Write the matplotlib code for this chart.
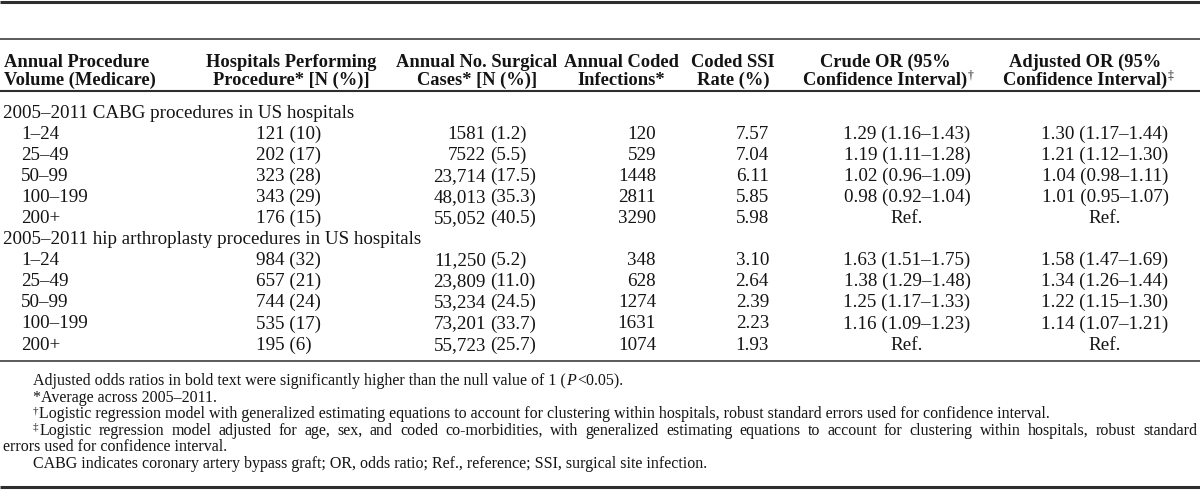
import matplotlib.pyplot as plt

plt.rcParams['font.family'] = 'Liberation Serif'

# table data
volume_bins = ['1–24', '25–49', '50–99', '100–199', '200+']
group_titles = ['2005–2011 CABG procedures in US hospitals',
                '2005–2011 hip arthroplasty procedures in US hospitals']

cabg_hosp_n = [121, 202, 323, 343, 176]
cabg_hosp_pct = [10, 17, 28, 29, 15]
cabg_cases_n = [1581, 7522, 23714, 48013, 55052]
cabg_cases_pct = [1.2, 5.5, 17.5, 35.3, 40.5]
cabg_infections = [120, 529, 1448, 2811, 3290]
cabg_rate = [7.57, 7.04, 6.11, 5.85, 5.98]
cabg_crude = [(1.29, 1.16, 1.43), (1.19, 1.11, 1.28), (1.02, 0.96, 1.09), (0.98, 0.92, 1.04), None]
cabg_adj = [(1.30, 1.17, 1.44), (1.21, 1.12, 1.30), (1.04, 0.98, 1.11), (1.01, 0.95, 1.07), None]

hip_hosp_n = [984, 657, 744, 535, 195]
hip_hosp_pct = [32, 21, 24, 17, 6]
hip_cases_n = [11250, 23809, 53234, 73201, 55723]
hip_cases_pct = [5.2, 11.0, 24.5, 33.7, 25.7]
hip_infections = [348, 628, 1274, 1631, 1074]
hip_rate = [3.10, 2.64, 2.39, 2.23, 1.93]
hip_crude = [(1.63, 1.51, 1.75), (1.38, 1.29, 1.48), (1.25, 1.17, 1.33), (1.16, 1.09, 1.23), None]
hip_adj = [(1.58, 1.47, 1.69), (1.34, 1.26, 1.44), (1.22, 1.15, 1.30), (1.14, 1.07, 1.21), None]

col_headers = [('Annual Procedure', 'Volume (Medicare)', ''),
               ('Hospitals Performing', 'Procedure* [N (%)]', ''),
               ('Annual No. Surgical', 'Cases* [N (%)]', ''),
               ('Annual Coded', 'Infections*', ''),
               ('Coded SSI', 'Rate (%)', ''),
               ('Crude OR (95%', 'Confidence Interval)', '†'),
               ('Adjusted OR (95%', 'Confidence Interval)', '‡')]

footnotes = ['*Average across 2005–2011.',
             'Logistic regression model with generalized estimating equations to account for clustering '
             'within hospitals, robust standard errors used for confidence interval.',
             'Logistic regression model adjusted for age, sex, and coded co-morbidities, with generalized '
             'estimating equations to account for clustering within hospitals, robust standard',
             'errors used for confidence interval.',
             'CABG indicates coronary artery bypass graft; OR, odds ratio; Ref., reference; SSI, surgical site infection.']

TXT = '#141414'
LINE = '#2e2e2e'
FS = 13.7
FH = 13.3
FN = 11.5

fig = plt.figure(figsize=(12, 4.97), dpi=100)
ax = fig.add_axes([0, 0, 1, 1])
ax.set_xlim(0, 1200)
ax.set_ylim(497, 0)
ax.axis('off')
rend = fig.canvas.get_renderer()


def right_of(t):
    bb = t.get_window_extent(rend)
    return ax.transData.inverted().transform((bb.x1, bb.y0))[0]


def txt(x, y, s, size=FS, ha='left', **kw):
    return ax.text(x, y, s, fontsize=size, ha=ha, va='baseline', color=TXT, **kw)


def fmt_n(n):
    return f'{n:,}' if n >= 10000 else str(n)


def fmt_or(v):
    if v is None:
        return 'Ref.'
    return f'{v[0]:.2f} ({v[1]:.2f}–{v[2]:.2f})'


# rules
ax.hlines(2, 0, 1200, color=LINE, lw=2.2)
ax.hlines(39, 0, 1200, color=LINE, lw=1.1)
ax.hlines(90.5, 0, 1200, color=LINE, lw=1.5)
ax.hlines(361, 0, 1200, color=LINE, lw=1.1)
ax.hlines(487, 0, 1200, color=LINE, lw=2.2)

# header
head_x = [4, 291, 477, 621, 733, 885, 1085]
for i, (l1, l2, sup) in enumerate(col_headers):
    ha = 'left' if i == 0 else 'center'
    txt(head_x[i], 67, l1, size=FH, ha=ha, fontweight='bold')
    t = txt(head_x[i], 85, l2, size=FH, ha=ha, fontweight='bold')
    if sup:
        fig.canvas.draw()
        txt(right_of(t) + 0.5, 78, sup, size=8.5)

# body rows
row0 = 117.5
pitch = 21.1
groups = [(cabg_hosp_n, cabg_hosp_pct, cabg_cases_n, cabg_cases_pct, cabg_infections, cabg_rate, cabg_crude, cabg_adj),
          (hip_hosp_n, hip_hosp_pct, hip_cases_n, hip_cases_pct, hip_infections, hip_rate, hip_crude, hip_adj)]
k = 0
for g, title in enumerate(group_titles):
    txt(3, row0 + pitch * k, title)
    k += 1
    hn, hp, cn, cp, inf, rate, crude, adj = groups[g]
    for j, vb in enumerate(volume_bins):
        y = row0 + pitch * k
        txt(21, y, vb)
        txt(256, y, f'{hn[j]} ({hp[j]})')
        txt(486, y, fmt_n(cn[j]), ha='right')
        txt(490, y, f'({cp[j]:.1f})')
        txt(656, y, str(inf[j]), ha='right')
        txt(769, y, f'{rate[j]:.2f}', ha='right')
        txt(907, y, fmt_or(crude[j]), ha='center')
        txt(1105, y, fmt_or(adj[j]), ha='center')
        k += 1

# footnotes
fy0 = 385
fp = 16.6
fig.canvas.draw()
t = txt(33, fy0, 'Adjusted odds ratios in bold text were significantly higher than the null value of 1 (', size=FN)
fig.canvas.draw()
t = txt(right_of(t), fy0, 'P', size=FN, style='italic')
fig.canvas.draw()
txt(right_of(t) + 2, fy0, '<0.05).', size=FN)

txt(33, fy0 + fp, footnotes[0], size=FN)

t = txt(33, fy0 + 2 * fp - 5, '†', size=8)
fig.canvas.draw()
txt(right_of(t) + 0.5, fy0 + 2 * fp, footnotes[1], size=FN)

t = txt(33, fy0 + 3 * fp - 5, '‡', size=8)
fig.canvas.draw()
x_start = right_of(t) + 0.5
words = footnotes[2].split(' ')
wt = [txt(x_start, fy0 + 3 * fp, w, size=FN) for w in words]
fig.canvas.draw()
widths = [right_of(w) - x_start for w in wt]
gap = (1197 - x_start - sum(widths)) / (len(words) - 1)
x = x_start
for w, wd in zip(wt, widths):
    w.set_x(x)
    x += wd + gap

txt(3, fy0 + 4 * fp, footnotes[3], size=FN)
txt(33, fy0 + 5 * fp, footnotes[4], size=FN)

fig.savefig('out.png', dpi=100)
